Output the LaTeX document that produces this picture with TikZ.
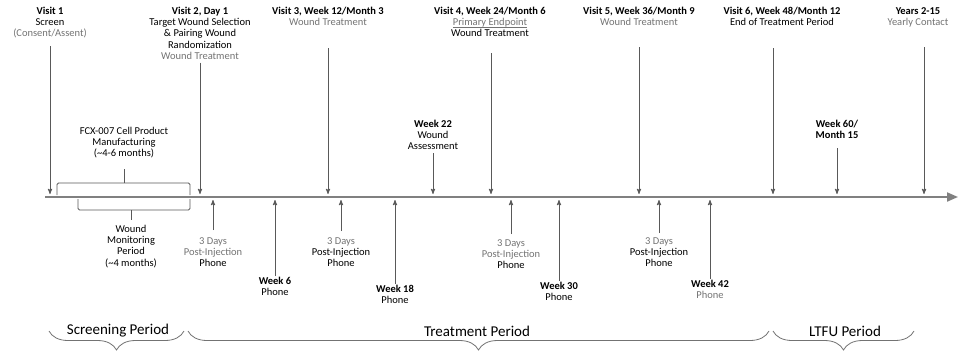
\documentclass[tikz,border=0pt]{standalone}
\usepackage{fontspec}
\setmainfont{Carlito}
\usepackage{tikz}
\usetikzlibrary{arrows,arrows.meta,decorations.pathreplacing,positioning}
\colorlet{mut}{black!55}
\newsavebox\ulbox
\newcommand{\undl}[1]{\sbox\ulbox{#1}\rlap{\rule[-1.4pt]{\wd\ulbox}{0.5pt}}\usebox\ulbox}
\tikzset{>=stealth',
	evt/.style={->,draw=black!65,line width=0.9pt},
	lbl/.style={align=center,inner sep=0pt,font=\fontsize{10.5}{11.2}\selectfont},
	bkt/.style={draw=black!65,line width=0.9pt,rounded corners=1.5pt},
	prd/.style={draw=black!55,line width=0.8pt,decorate,decoration={brace,mirror,amplitude=19pt}},
	ptxt/.style={inner sep=0pt,font=\fontsize{15}{18}\selectfont},
	tline/.style={draw=black!50,line width=2pt,-{Triangle[length=11pt,width=9pt]}}}
\begin{document}
\begin{tikzpicture}[x=1pt,y=-1pt]
	\useasboundingbox (0,0) rectangle (959,356);
	\coordinate (ax0) at (45,197);
	\coordinate (ax1) at (958,197);
	\draw[tline] (ax0) -- (ax1);
	\node (v1) at (50,7) [lbl,anchor=north] {\textbf{Visit 1}\\Screen\\\textcolor{mut}{(Consent/Assent)}};
	\node (v2) at (200,7) [lbl,anchor=north] {\textbf{Visit 2, Day 1}\\Target Wound Selection\\\& Pairing Wound\\Randomization\\\textcolor{mut}{Wound Treatment}};
	\node (v3) at (328,7) [lbl,anchor=north] {\textbf{Visit 3, Week 12/Month 3}\\\textcolor{mut}{Wound Treatment}};
	\node (v4) at (490,7) [lbl,anchor=north] {\textbf{Visit 4, Week 24/Month 6}\\{\color{mut}\undl{Primary Endpoint}}\\Wound Treatment};
	\node (v5) at (639,7) [lbl,anchor=north] {\textbf{Visit 5, Week 36/Month 9}\\\textcolor{mut}{Wound Treatment}};
	\node (v6) at (782,7) [lbl,anchor=north] {\textbf{Visit 6, Week 48/Month 12}\\End of Treatment Period};
	\node (yr) at (918,7) [lbl,anchor=north] {\textbf{Years 2-15}\\\textcolor{mut}{Yearly Contact}};
	\coordinate (v1t) at (50,46);
	\coordinate (v1b) at (50,194);
	\coordinate (v2b) at (200,194);
	\coordinate (v3t) at (328,48);
	\coordinate (v3b) at (328,194);
	\coordinate (v4t) at (491,53);
	\coordinate (v4b) at (491,194);
	\coordinate (v5t) at (639,47);
	\coordinate (v5b) at (639,194);
	\coordinate (v6t) at (773,48);
	\coordinate (v6b) at (773,194);
	\coordinate (yrt) at (924,47);
	\coordinate (yrb) at (924,194);
	\draw[evt] (v1t) -- (v1b);
	\draw[evt] ([yshift=-3pt]v2.south) -- (v2b);
	\draw[evt] (v3t) -- (v3b);
	\draw[evt] (v4t) -- (v4b);
	\draw[evt] (v5t) -- (v5b);
	\draw[evt] (v6t) -- (v6b);
	\draw[evt] (yrt) -- (yrb);
	\node (mfg) at (124,127) [lbl,anchor=north] {FCX-007 Cell Product\\Manufacturing\\(\textasciitilde4-6 months)};
	\coordinate (mfgt) at (124,169);
	\coordinate (mfgb) at (124,183);
	\draw[bkt] (57,195) |- (190,183) -- (190,195);
	\draw[bkt] (mfgb) -- (mfgt);
	\node (mon) at (131,225) [lbl,anchor=north] {Wound\\Monitoring\\Period\\(\textasciitilde4 months)};
	\coordinate (mont) at (131,210);
	\coordinate (monb) at (131,220);
	\draw[bkt] (78,199) |- (190,210) -- (190,199);
	\draw[bkt] (mont) -- (monb);
	\node (w22) at (433,120) [lbl,anchor=north] {\textbf{Week 22}\\Wound\\Assessment};
	\coordinate (w22b) at (433,194);
	\draw[evt] ([yshift=-3pt]w22.south) -- (w22b);
	\node (w60) at (837,120) [lbl,anchor=north] {\textbf{Week 60/}\\\textbf{Month 15}};
	\coordinate (w60t) at (837,148);
	\coordinate (w60b) at (837,194);
	\draw[evt] (w60t) -- (w60b);
	\node (p1) at (213,237) [lbl,anchor=north] {\textcolor{mut}{3 Days}\\\textcolor{mut}{Post-Injection}\\Phone};
	\node (p2) at (341,237) [lbl,anchor=north] {\textcolor{mut}{3 Days}\\Post-Injection\\Phone};
	\node (p3) at (511,239) [lbl,anchor=north] {\textcolor{mut}{3 Days}\\\textcolor{mut}{Post-Injection}\\Phone};
	\node (p4) at (659,237) [lbl,anchor=north] {\textcolor{mut}{3 Days}\\Post-Injection\\Phone};
	\coordinate (p1a) at (213,200);
	\coordinate (p1t) at (213,230);
	\coordinate (p2a) at (341,200);
	\coordinate (p2t) at (341,231);
	\coordinate (p3a) at (511,200);
	\coordinate (p3t) at (511,234);
	\coordinate (p4a) at (659,200);
	\coordinate (p4t) at (659,233);
	\draw[evt] (p1t) -- (p1a);
	\draw[evt] (p2t) -- (p2a);
	\draw[evt] (p3t) -- (p3a);
	\draw[evt] (p4t) -- (p4a);
	\node (w6) at (275,277) [lbl,anchor=north] {\textbf{Week 6}\\Phone};
	\node (w18) at (395,285) [lbl,anchor=north] {\textbf{Week 18}\\Phone};
	\node (w30) at (559,282) [lbl,anchor=north] {\textbf{Week 30}\\Phone};
	\node (w42) at (710,280) [lbl,anchor=north] {\textbf{Week 42}\\\textcolor{mut}{Phone}};
	\coordinate (w6a) at (275,200);
	\coordinate (w18a) at (395,200);
	\coordinate (w30a) at (559,200);
	\coordinate (w42a) at (710,200);
	\draw[evt] ([yshift=1pt]w6.north) -- (w6a);
	\draw[evt] ([yshift=1pt]w18.north) -- (w18a);
	\draw[evt] ([yshift=1pt]w30.north) -- (w30a);
	\draw[evt] ([yshift=1pt]w42.north) -- (w42a);
	\node (scr) at (118,331) [ptxt] {Screening Period};
	\node (trt) at (477,331) [ptxt] {Treatment Period};
	\node (ltfu) at (845,331) [ptxt] {LTFU Period};
	\draw[prd] (49,331) -- (184,331);
	\draw[prd] (188,331) -- (769,331);
	\draw[prd] (773,331) -- (914,331);
\end{tikzpicture}
\end{document}
